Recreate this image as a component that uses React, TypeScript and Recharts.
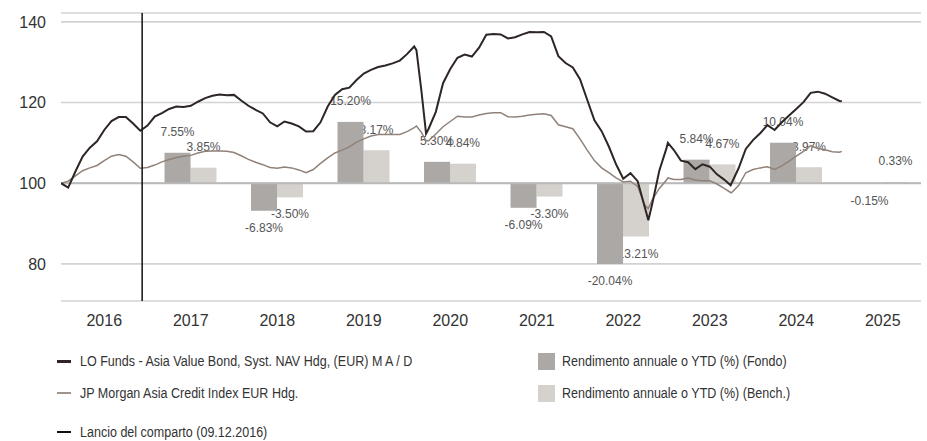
import React from 'react';
import { ComposedChart, Line, Bar, XAxis, YAxis, CartesianGrid, ReferenceLine } from 'recharts';

// monthly readings (plus a few extra dates around the sharp turns)
const dates = [
  '2016-01-01', '2016-02-01', '2016-03-01', '2016-04-01', '2016-05-01', '2016-06-01',
  '2016-07-01', '2016-08-01', '2016-09-01', '2016-10-01', '2016-11-01', '2016-12-01',
  '2017-01-01', '2017-02-01', '2017-03-01', '2017-04-01', '2017-05-01', '2017-06-01',
  '2017-07-01', '2017-08-01', '2017-09-01', '2017-10-01', '2017-11-01', '2017-12-01',
  '2018-01-01', '2018-02-01', '2018-03-01', '2018-04-01', '2018-05-01', '2018-06-01',
  '2018-07-01', '2018-08-01', '2018-09-01', '2018-10-01', '2018-11-01', '2018-12-01',
  '2019-01-01', '2019-02-01', '2019-03-01', '2019-04-01', '2019-05-01', '2019-06-01',
  '2019-07-01', '2019-08-01', '2019-09-01', '2019-10-01', '2019-11-01', '2019-12-01',
  '2020-01-01', '2020-02-01', '2020-02-10', '2020-03-01', '2020-03-21', '2020-04-01',
  '2020-05-01', '2020-06-01', '2020-07-01', '2020-08-01', '2020-09-01', '2020-10-01',
  '2020-11-01', '2020-12-01',
  '2021-01-01', '2021-02-01', '2021-03-01', '2021-04-01', '2021-05-01', '2021-06-01',
  '2021-07-01', '2021-08-01', '2021-09-01', '2021-10-01', '2021-11-01', '2021-12-01',
  '2022-01-01', '2022-02-01', '2022-03-01', '2022-04-01', '2022-05-01', '2022-06-01',
  '2022-07-01', '2022-08-01', '2022-09-01', '2022-10-01', '2022-10-16', '2022-11-01',
  '2022-12-01',
  '2023-01-01', '2023-01-07', '2023-02-01', '2023-03-01', '2023-04-01', '2023-05-01',
  '2023-06-01', '2023-07-01', '2023-08-01', '2023-09-01', '2023-09-28', '2023-10-01',
  '2023-11-01', '2023-12-01',
  '2024-01-01', '2024-02-01', '2024-03-01', '2024-04-01', '2024-05-01', '2024-06-01',
  '2024-07-01', '2024-08-01', '2024-09-01', '2024-10-01', '2024-11-01', '2024-12-01',
  '2025-01-01', '2025-01-11',
];

const fundNav = [
  100.0, 98.9, 102.9, 106.6, 108.8, 110.4, 113.2, 115.4, 116.4, 116.4, 114.8, 113.0,
  114.3, 116.5, 117.4, 118.4, 119.0, 118.9, 119.2, 120.2, 121.1, 121.7, 122.0, 121.8,
  121.9, 120.5, 119.2, 118.2, 117.3, 115.1, 114.1, 115.3, 114.8, 114.1, 112.8, 112.9,
  115.1, 119.0, 121.9, 123.3, 123.7, 125.6, 127.2, 128.1, 128.8, 129.2, 129.7, 130.4,
  132.0, 133.9, 133.0, 122.9, 112.3, 113.5, 117.7, 124.8, 128.3, 131.1, 131.9, 131.4,
  133.6, 136.8,
  137.0, 136.9, 135.9, 136.2, 136.9, 137.5, 137.4, 137.5, 136.4, 131.5, 129.8, 128.7,
  125.8, 120.7, 115.6, 112.9, 109.1, 104.7, 101.1, 102.5, 100.5, 94.0, 90.8, 94.7,
  103.1,
  108.7, 110.0, 108.3, 105.6, 105.2, 103.5, 104.7, 104.1, 102.2, 100.9, 99.5, 99.9,
  103.7, 108.5,
  110.7, 112.4, 114.4, 113.2, 115.1, 116.8, 118.4, 120.1, 122.4, 122.7, 122.2, 121.3,
  120.4, 120.3,
];

const benchNav = [
  100.0, 100.5, 101.8, 103.1, 103.8, 104.4, 105.6, 106.7, 107.1, 106.7, 105.3, 103.7,
  103.9, 104.5, 105.3, 105.9, 106.4, 106.7, 106.9, 107.5, 107.9, 108.0, 108.0, 107.9,
  107.6, 106.8, 105.9, 105.2, 104.6, 103.9, 103.7, 104.0, 103.8, 103.3, 102.6, 103.4,
  104.9, 106.3, 107.5, 108.2, 109.0, 110.2, 111.0, 111.7, 112.1, 112.1, 112.1, 112.1,
  112.8, 113.8, 114.2, 112.6, 110.5, 110.5, 112.2, 114.0, 115.3, 116.6, 116.4, 116.4,
  116.9, 117.3,
  117.5, 117.5, 116.5, 116.4, 116.6, 116.9, 117.1, 117.2, 116.8, 114.5, 114.0, 113.5,
  111.0, 108.2, 105.6, 103.8, 102.6, 101.3, 100.3, 100.5, 99.2, 94.5, 93.7, 95.8,
  98.7,
  100.8, 101.3, 100.9, 100.9, 101.3, 100.8, 100.6, 100.6, 99.8, 98.7, 97.7, 97.6,
  99.4, 102.6,
  103.4, 103.8, 104.1, 103.4, 104.3, 105.5, 106.7, 107.9, 109.3, 108.6, 108.3, 107.8,
  107.7, 107.9,
];

const yearLabels = ['2016', '2017', '2018', '2019', '2020', '2021', '2022', '2023', '2024', '2025'];
const returnYears = [2017, 2018, 2019, 2020, 2021, 2022, 2023, 2024, 2025];
const fundReturns = [7.55, -6.83, 15.2, 5.3, -6.09, -20.04, 5.84, 10.04, -0.15];
const benchReturns = [3.85, -3.5, 8.17, 4.84, -3.3, -13.21, 4.67, 3.97, 0.33];
const yTicks = [80, 100, 120, 140];
const launchDate = '2016-12-09';

const NAV_COLOR = '#2e2525';
const BENCH_COLOR = '#908279';
const FUND_BAR = '#aca8a6';
const BENCH_BAR = '#d5d1cd';
const BAR_SIZE = 26;
const HALF_BAR_YEARS = 0.15;
const Y_DOMAIN: [number, number] = [70.8, 142.2];

const toYear = (d: string) => {
  const [y, m, day] = d.split('-').map(Number);
  const dim = new Date(Date.UTC(y, m, 0)).getUTCDate();
  return y + (m - 1) / 12 + (day - 1) / (12 * dim);
};

const lineRows = dates.map((d, i) => ({ t: toYear(d), nav: fundNav[i], bench: benchNav[i] }));
const fundRows = returnYears.map((y, i) => ({ ft: y + 0.5 - HALF_BAR_YEARS, fund: fundReturns[i] }));
const benchRows = returnYears.map((y, i) => ({ bt: y + 0.5 + HALF_BAR_YEARS, benchRet: benchReturns[i] }));
const data = [...lineRows, ...fundRows, ...benchRows];

const firstYear = Number(yearLabels[0]);
const lastYear = Number(yearLabels[yearLabels.length - 1]) + 1;
const boundaryTicks = yearLabels.map((l) => Number(l) + 1);
const labelTicks = yearLabels.map((l) => Number(l) + 0.5);

// bar rect plus its value label, so later bars can cover earlier labels
const BarWithLabel = (props: any) => {
  const { x, y, width, height, fill, payload, field } = props;
  const v = payload ? payload[field] : undefined;
  if (v == null || !isFinite(y) || !isFinite(height)) return null;
  const top = Math.min(y, y + height);
  const h = Math.abs(height);
  const cx = x + width / 2;
  const ty = v >= 0 ? top - 16.5 : top + h + 21;
  return (
    <g>
      <rect x={x} y={top} width={width} height={h} fill={fill} />
      <text x={cx} y={ty} textAnchor="middle" fontSize={12} fill="#555">
        {`${v.toFixed(2)}%`}
      </text>
    </g>
  );
};

const GridLine = (props: any) => (
  <line x1={props.x1} y1={props.y1} x2={props.x2 - 5} y2={props.y2} stroke="#d3d3d3" strokeWidth={1.6} />
);

const BaseLine = (props: any) => (
  <line x1={props.x1} y1={props.y1} x2={props.x2 - 5} y2={props.y2} stroke="#b9b9b9" strokeWidth={2} />
);

const LegendText: React.FC<{ children: React.ReactNode }> = ({ children }) => (
  <span style={{ display: 'inline-block', whiteSpace: 'nowrap', transform: 'scaleX(0.808)', transformOrigin: 'left center' }}>{children}</span>
);

const LegendLine: React.FC<{ top: number; color: string; thick: number; label: string }> = ({ top, color, thick, label }) => (
  <div style={{ position: 'absolute', left: 57, top: top - 10, height: 20, display: 'flex', alignItems: 'center' }}>
    <span style={{ display: 'inline-block', width: 14, height: thick, background: color, marginRight: 9 }} />
    <LegendText>{label}</LegendText>
  </div>
);

const LegendBox: React.FC<{ top: number; color: string; label: string }> = ({ top, color, label }) => (
  <div style={{ position: 'absolute', left: 538, top: top - 10, height: 20, display: 'flex', alignItems: 'center' }}>
    <span style={{ display: 'inline-block', width: 17, height: 17, background: color, marginRight: 7 }} />
    <LegendText>{label}</LegendText>
  </div>
);

export default function App() {
  return (
    <div style={{ position: 'absolute', left: 0, top: 0, width: 927, height: 441, background: '#fff', fontFamily: "'Liberation Sans', Arial, sans-serif", overflow: 'hidden' }}>
      <ComposedChart width={927} height={335} data={data} margin={{ top: 13, right: 1, bottom: 4, left: 0 }}>
        <CartesianGrid yAxisId="v" xAxisId="t" vertical={false} horizontal={GridLine} />
        <XAxis
          xAxisId="t"
          dataKey="t"
          type="number"
          domain={[firstYear, lastYear]}
          allowDataOverflow
          ticks={boundaryTicks}
          tick={false}
          tickSize={9}
          tickLine={{ stroke: '#5d5b48', strokeWidth: 1.5 }}
          axisLine={{ stroke: '#5d5b48', strokeWidth: 2 }}
          height={0}
        />
        <XAxis
          xAxisId="u"
          dataKey="bt"
          type="number"
          domain={[firstYear, lastYear]}
          allowDataOverflow
          ticks={labelTicks}
          tickFormatter={(v: number) => String(Math.floor(v))}
          axisLine={false}
          tickLine={false}
          tickSize={0}
          tickMargin={14}
          tick={{ fontSize: 16, fill: '#333' }}
          height={30}
        />
        <XAxis xAxisId="w" dataKey="ft" type="number" domain={[firstYear, lastYear]} allowDataOverflow hide height={0} />
        <YAxis
          yAxisId="v"
          type="number"
          domain={Y_DOMAIN}
          allowDataOverflow
          ticks={yTicks}
          axisLine={false}
          tickLine={false}
          tickSize={0}
          tickMargin={15}
          width={61}
          tick={{ fontSize: 16, fill: '#333' }}
        />
        <YAxis yAxisId="z" type="number" domain={[Y_DOMAIN[0] - 100, Y_DOMAIN[1] - 100]} allowDataOverflow hide width={0} />
        <ReferenceLine yAxisId="v" xAxisId="t" y={100} shape={BaseLine} />
        <Bar
          xAxisId="u"
          yAxisId="z"
          dataKey="benchRet"
          fill={BENCH_BAR}
          barSize={BAR_SIZE}
          isAnimationActive={false}
          shape={(p: any) => <BarWithLabel {...p} field="benchRet" />}
        />
        <Bar
          xAxisId="w"
          yAxisId="z"
          dataKey="fund"
          fill={FUND_BAR}
          barSize={BAR_SIZE}
          isAnimationActive={false}
          shape={(p: any) => <BarWithLabel {...p} field="fund" />}
        />
        <Line xAxisId="t" yAxisId="v" dataKey="bench" stroke={BENCH_COLOR} strokeWidth={1.5} dot={false} connectNulls isAnimationActive={false} />
        <Line xAxisId="t" yAxisId="v" dataKey="nav" stroke={NAV_COLOR} strokeWidth={2} dot={false} connectNulls isAnimationActive={false} />
        <ReferenceLine xAxisId="t" yAxisId="v" x={toYear(launchDate)} stroke="#111" strokeWidth={1.5} />
      </ComposedChart>
      <div style={{ position: 'absolute', left: 0, top: 0, width: 927, height: 441, fontSize: 15.5, color: '#333' }}>
        <LegendLine top={361} color={NAV_COLOR} thick={3} label="LO Funds - Asia Value Bond, Syst. NAV Hdg, (EUR) M A / D" />
        <LegendLine top={393} color="#9e948e" thick={2} label="JP Morgan Asia Credit Index EUR Hdg." />
        <LegendLine top={432} color="#111" thick={1.5} label="Lancio del comparto (09.12.2016)" />
        <LegendBox top={361} color={FUND_BAR} label="Rendimento annuale o YTD (%) (Fondo)" />
        <LegendBox top={393} color={BENCH_BAR} label="Rendimento annuale o YTD (%) (Bench.)" />
      </div>
    </div>
  );
}
